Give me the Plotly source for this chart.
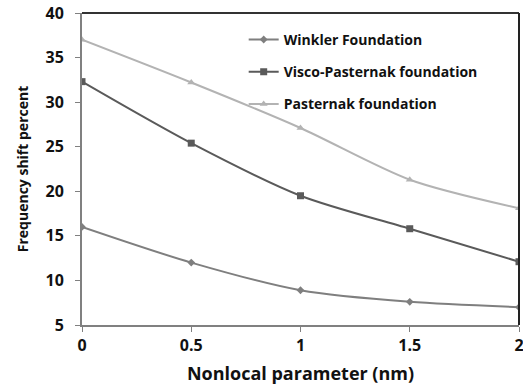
import plotly.graph_objects as go

# Nonlocal parameter (nm)
nonlocal_nm = [0, 0.5, 1, 1.5, 2]

# Frequency shift percent for each foundation model
winkler = [16.0, 12.0, 8.9, 7.6, 7.0]
visco_pasternak = [32.3, 25.4, 19.5, 15.8, 12.1]
pasternak = [37.0, 32.2, 27.1, 21.3, 18.1]

series_names = ["Winkler Foundation", "Visco-Pasternak foundation", "Pasternak foundation"]
x_ticks = [0, 0.5, 1, 1.5, 2]
y_ticks = [5, 10, 15, 20, 25, 30, 35, 40]

FONT = "Open Sans"

fig = go.Figure()

styles = [
    (winkler, "#7f7f7f", "diamond", 6),
    (visco_pasternak, "#5a5a5a", "square", 7),
    (pasternak, "#b3b3b3", "triangle-up", 7),
]

for i, (vals, color, symbol, msize) in enumerate(styles):
    fig.add_trace(go.Scatter(
        x=nonlocal_nm, y=vals, name=series_names[i],
        mode="lines+markers",
        line=dict(color=color, width=2, shape="spline", smoothing=0.8),
        marker=dict(symbol=symbol, size=msize, color=color),
        legendgroup=f"g{i}",
    ))

fig.update_layout(
    width=523, height=385,
    margin=dict(l=82, r=4, t=13, b=60, autoexpand=False),
    paper_bgcolor="white", plot_bgcolor="white",
    font=dict(family=FONT, color="#111111"),
    showlegend=True,
    legend=dict(
        x=0.37, y=0.965, xanchor="left", yanchor="top",
        bgcolor="rgba(0,0,0,0)", borderwidth=0,
        font=dict(family=FONT, size=14, color="#111111", weight="bold"),
        traceorder="grouped", tracegroupgap=11, itemwidth=30,
    ),
    xaxis=dict(
        range=[0, 2], tickvals=x_ticks, ticktext=["0", "0.5", "1", "1.5", "2"],
        showgrid=False, zeroline=False, automargin=False,
        showline=True, linecolor="#808080", linewidth=2,
        ticks="outside", ticklen=5, tickcolor="#808080", tickwidth=1,
        ticklabeloverflow="allow",
        tickfont=dict(family=FONT, size=16, color="#111111", weight="bold"),
        title=dict(text="Nonlocal parameter (nm)", standoff=12,
                   font=dict(family=FONT, size=18, color="#111111", weight="bold")),
    ),
    yaxis=dict(
        range=[5, 40], tickvals=y_ticks,
        showgrid=False, zeroline=False, automargin=False,
        showline=True, linecolor="#808080", linewidth=2,
        ticks="outside", ticklen=5, tickcolor="#808080", tickwidth=1,
        ticklabelstandoff=8,
        tickfont=dict(family=FONT, size=16, color="#111111", weight="bold"),
        title=dict(text="Frequency shift percent", standoff=14,
                   font=dict(family=FONT, size=14, color="#111111", weight="bold")),
    ),
    shapes=[
        dict(type="line", xref="paper", yref="paper", x0=0, x1=1, y0=1, y1=1,
             line=dict(color="#333333", width=2)),
        dict(type="line", xref="paper", yref="paper", x0=1, x1=1, y0=0, y1=1,
             line=dict(color="#222222", width=2)),
    ],
)

fig.write_html("out.html")
